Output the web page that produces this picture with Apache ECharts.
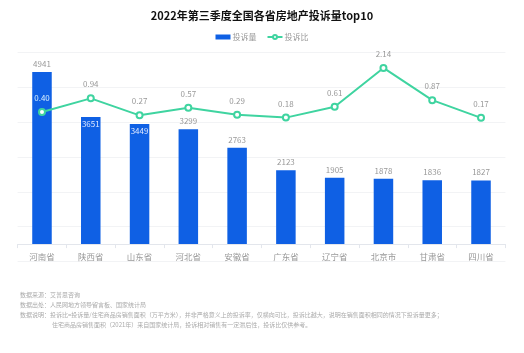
<!DOCTYPE html>
<html><head><meta charset="utf-8">
<script src="https://cdn.jsdelivr.net/npm/echarts@6/dist/echarts.min.js"></script>
<style>html,body{margin:0;padding:0;background:#fff}#c{width:524px;height:353px}</style>
</head><body><div id="c"></div>
<script>
const categories = ['河南省','陕西省','山东省','河北省','安徽省','广东省','辽宁省','北京市','甘肃省','四川省'];
const complaintCount = [4941,3651,3449,3299,2763,2123,1905,1878,1836,1827];
const complaintRatio = [0.40,0.94,0.27,0.57,0.29,0.18,0.61,2.14,0.87,0.17];
const titleText = '2022年第三季度全国各省房地产投诉量top10';
const notes = [
  '数据来源：艾普思咨询',
  '数据出处：人民网地方领导留言板、国家统计局',
  '数据说明：投诉比=投诉量/住宅商品房销售面积（万平方米），并非严格意义上的投诉率，仅横向可比，投诉比越大，说明在销售面积相同的情况下投诉量更多；',
  '住宅商品房销售面积（2021年）来自国家统计局，投诉相对销售有一定滞后性，投诉比仅供参考。'
];

const FONT = '"Noto Sans CJK SC", "Noto Sans", sans-serif';
const BAR = '#0f60e4', LINE = '#3fd4a0';
const barMin = -500, barMax = 5500, lineMin = -5.5, lineMax = 2.75;
const gridTop = 52.5, gridBottom = 91.5, gridH = 353 - gridTop - gridBottom;
const fb = v => (v - barMin) / (barMax - barMin) * gridH;
const fl = v => (v - lineMin) / (lineMax - lineMin) * gridH;
const zeroFromTop = gridH - fb(0);

const barData = complaintCount.map((v, i) => {
  const gap = fl(complaintRatio[i]) - fb(v);
  const inside = gap > 0 && gap < 20;
  return { value: v, label: inside ? { position: 'insideTop', distance: 3, color: '#dfe8ff' } : {} };
});
const lineData = complaintRatio.map((v, i) => {
  const onBar = fl(v) < fb(complaintCount[i]);
  return { value: v, label: onBar ? { color: '#d8f0ff' } : {} };
});

const chart = echarts.init(document.getElementById('c'), null, { renderer: 'canvas' });
chart.setOption({
  animation: false,
  textStyle: { fontFamily: FONT },
  title: { text: titleText, left: 'center', top: 5, textStyle: { fontSize: 11, fontWeight: 'bold', color: '#111', fontFamily: FONT } },
  legend: {
    top: 28, left: 'center', itemWidth: 15, itemHeight: 5, itemGap: 10,
    textStyle: { fontSize: 8, color: '#999', fontFamily: FONT, padding: [0, 0, 0, -3] },
    data: [{ name: '投诉量', icon: 'rect' }, { name: '投诉比' }]
  },
  grid: { left: 17.6, right: 18.6, top: gridTop, bottom: gridBottom, containLabel: false },
  xAxis: [
    { type: 'category', data: categories,
      axisLine: { show: false, onZero: false }, axisTick: { show: false },
      axisLabel: { fontSize: 8.5, color: '#999', margin: -(gridH - zeroFromTop) + 8.5, fontFamily: FONT } },
    { type: 'category', data: categories, position: 'top', offset: -zeroFromTop,
      axisLine: { show: true, onZero: false, lineStyle: { color: '#e3e6ec' } },
      axisTick: { show: true, inside: true, length: 4, lineStyle: { color: '#e3e6ec' } },
      axisLabel: { show: false } }
  ],
  yAxis: [
    { type: 'value', min: barMin, max: barMax, interval: 1000, axisLabel: { show: false },
      axisLine: { show: false }, axisTick: { show: false },
      splitLine: { lineStyle: { color: '#f2f3f5' } } },
    { type: 'value', min: lineMin, max: lineMax, axisLabel: { show: false },
      axisLine: { show: false }, axisTick: { show: false }, splitLine: { show: false } }
  ],
  series: [
    { name: '投诉量', type: 'bar', data: barData, barWidth: '40%', yAxisIndex: 0, xAxisIndex: 0,
      itemStyle: { color: BAR },
      label: { show: true, position: 'top', distance: 4, fontSize: 8, color: '#999', fontFamily: FONT } },
    { name: '投诉比', type: 'line', data: lineData, yAxisIndex: 1, xAxisIndex: 0,
      symbol: 'emptyCircle', symbolSize: 6,
      lineStyle: { color: LINE, width: 2 }, itemStyle: { color: LINE, borderWidth: 2 },
      label: { show: true, position: 'top', distance: 6, fontSize: 8, color: '#999', fontFamily: FONT,
        formatter: p => p.value.toFixed(2) } }
  ],
  graphic: [
    { type: 'text', left: 20, top: 292, style: { text: notes[0], fontSize: 6, fill: '#aaa', fontFamily: FONT } },
    { type: 'text', left: 20, top: 302, style: { text: notes[1], fontSize: 6, fill: '#aaa', fontFamily: FONT } },
    { type: 'text', left: 20, top: 312, style: { text: notes[2], fontSize: 6, fill: '#aaa', fontFamily: FONT } },
    { type: 'text', left: 52, top: 322, style: { text: notes[3], fontSize: 6, fill: '#aaa', fontFamily: FONT } }
  ]
});
</script></body></html>
